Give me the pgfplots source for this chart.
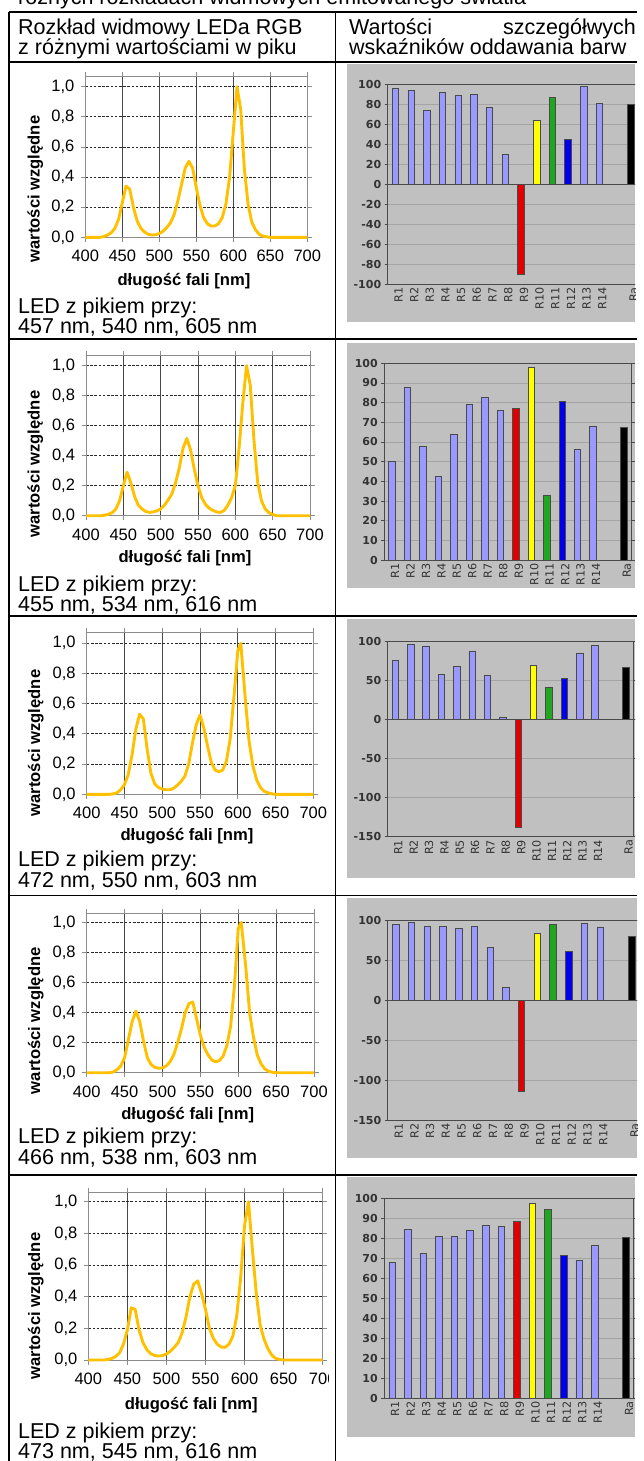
\documentclass[border=0pt]{standalone}
\usepackage{fontspec}
\setmainfont{Liberation Sans}
\newfontfamily\dejavu{DejaVu Sans}
\usepackage{pgfplots}
\pgfplotsset{compat=1.18}
\definecolor{cgold}{HTML}{FFC000}
\definecolor{cgrey}{HTML}{C0C0C0}
\definecolor{gridg}{HTML}{A4A4A4}
\definecolor{frameg}{HTML}{4A4A4A}
\definecolor{labg}{HTML}{333333}
\definecolor{lav}{HTML}{9999FF}
\definecolor{cred}{HTML}{E00000}
\definecolor{cyel}{HTML}{FFFF00}
\definecolor{cgreen}{HTML}{1FA81F}
\definecolor{cblue}{HTML}{0000EE}
\definecolor{boxg}{HTML}{8C8C8C}
\definecolor{vgrid}{HTML}{474747}
\definecolor{hgrid}{HTML}{2A2A2A}
\pgfplotsset{
 spec/.style={
  scale only axis, anchor=south west, clip=false,
  xmin=400, xmax=700, ymin=0,
  xtick={400,450,500,550,600,650,700},
  ytick={0,0.2,0.4,0.6,0.8,1},
  xmajorgrids, ymajorgrids,
  x grid style={color=vgrid, line width=0.9pt},
  y grid style={color=hgrid, line width=0.9pt, dash pattern=on 2.6pt off 1.6pt},
  axis line style={color=boxg, line width=0.9pt},
  tick align=outside, major tick length=4.5pt,
  tick style={color=boxg, line width=0.9pt},
  tick label style={font=\fontsize{16.5}{18}\selectfont},
  xticklabel style={/pgf/number format/assume math mode=true, yshift=-5pt},
  yticklabel style={/pgf/number format/.cd, fixed, fixed zerofill, precision=1, use comma, assume math mode=true, /tikz/xshift=-3pt},
 },
 curve/.style={color=cgold, line width=2.9pt, line join=round},
 bars/.style={
  scale only axis, anchor=south west,
  xmin=-0.5, xmax=15.5,
  xtick={0,1,2,3,4,5,6,7,8,9,10,11,12,13,15},
  xticklabels={R1,R2,R3,R4,R5,R6,R7,R8,R9,R10,R11,R12,R13,R14,Ra},
  ymajorgrids, grid style={color=gridg, line width=0.8pt},
  axis line style={color=frameg, line width=0.9pt},
  tick align=outside, major tick length=3pt,
  xtick style={draw=none},
  ytick style={color=frameg, line width=0.9pt},
  yticklabel style={font=\dejavu\bfseries\fontsize{11}{12}\selectfont, text=labg, /pgf/number format/assume math mode=true},
  xticklabel style={font=\dejavu\fontsize{11.2}{12}\selectfont, text=labg, rotate=90, anchor=east, inner sep=0pt, yshift=-3pt},
 },
 zeroline/.style={extra y ticks={0}, extra y tick labels={}, extra y tick style={grid style={color=frameg, line width=0.9pt}}},
 bar/.style={ybar, bar width=6.5pt, bar shift=0pt, draw=frameg, line width=0.7pt},
}
\tikzset{txt/.style={font=\fontsize{21.5}{24}\selectfont, inner sep=0pt},
 alab/.style={font=\bfseries\fontsize{16.6}{18}\selectfont, inner sep=0pt}}
\begin{document}
\begin{tikzpicture}[x=1pt,y=-1pt]
\useasboundingbox (0,0) rectangle (643,1461);
\clip (0,0) rectangle (643,1461);
% title fragment and header
\node[txt, anchor=base west] at (18,5) {różnych rozkładach widmowych emitowanego światła};
\node[txt, anchor=base west] at (18,35) {Rozkład widmowy LEDa RGB};
\node[txt, anchor=base west] at (18,55) {z różnymi wartościami w piku};
\node[txt, anchor=base west] at (349,35) {Wartości};
\node[txt, anchor=base east] at (636,35) {szczegółwych};
\node[txt, anchor=base west] at (349,55) {wskaźników oddawania barw};
% table rules
\draw[line width=1.4pt] (9,12) -- (637,12);
\draw[line width=1.4pt] (9,62) -- (637,62);
\draw[line width=1.4pt] (9,339) -- (637,339);
\draw[line width=1.4pt] (9,616) -- (637,616);
\draw[line width=1.4pt] (9,895.5) -- (637,895.5);
\draw[line width=1.4pt] (9,1175) -- (637,1175);
\draw[line width=1.4pt] (9,12) -- (9,1470);
\draw[line width=1.4pt] (335.5,12) -- (335.5,1470);

% ---------- Row 1 ----------
\begin{axis}[spec, at={(85.3pt,-237.3pt)}, width=222pt, height=161.1pt, ymax=1.07]
\addplot[curve] coordinates {(400,0)(405,0)(410,0)(415,0)(420,0)(425,0.005)(430,0.015)(435,0.03)(440,0.06)(445,0.12)(450,0.23)(455,0.34)(460,0.32)(465,0.2)(470,0.11)(475,0.06)(480,0.035)(485,0.02)(490,0.015)(495,0.017)(500,0.025)(505,0.04)(510,0.065)(515,0.095)(520,0.15)(525,0.24)(530,0.35)(535,0.46)(540,0.505)(545,0.46)(550,0.33)(555,0.21)(560,0.13)(565,0.09)(570,0.075)(575,0.075)(580,0.09)(585,0.13)(590,0.22)(595,0.4)(600,0.7)(605,1.0)(610,0.85)(615,0.45)(620,0.22)(625,0.1)(630,0.05)(635,0.02)(640,0.008)(645,0.003)(650,0)(660,0)(670,0)(680,0)(690,0)(700,0)};
\end{axis}
\node[alab, anchor=base] at (184,285) {długość fali [nm]};
\node[alab, rotate=90, anchor=base] at (39.5,189) {wartości względne};
\node[txt, anchor=base west] at (18,313) {LED z pikiem przy:};
\node[txt, anchor=base west] at (18,333) {457 nm, 540 nm, 605 nm};
\fill[cgrey] (347,64) rectangle (635,322);
\begin{scope}
\clip (347,64) rectangle (635,322);
\begin{axis}[bars, zeroline, at={(387.7pt,-284pt)}, width=250.8pt, height=199.7pt, ymin=-100, ymax=100, ytick={-100,-80,-60,-40,-20,0,20,40,60,80,100}]
\addplot[bar, fill=lav] coordinates {(0,96)(1,94)(2,74)(3,92)(4,88.5)(5,89.5)(6,76.5)(7,30)(12,97.5)(13,80.7)};
\addplot[bar, fill=cred] coordinates {(8,-90)};
\addplot[bar, fill=cyel] coordinates {(9,63.5)};
\addplot[bar, fill=cgreen] coordinates {(10,87)};
\addplot[bar, fill=cblue] coordinates {(11,45)};
\addplot[bar, fill=black] coordinates {(15,80)};
\end{axis}
\end{scope}

% ---------- Row 2 ----------
\begin{axis}[spec, at={(86pt,-515.7pt)}, width=224pt, height=160.5pt, ymax=1.07]
\addplot[curve] coordinates {(400,0)(405,0)(410,0)(415,0)(420,0)(425,0.003)(430,0.01)(435,0.02)(440,0.045)(445,0.1)(450,0.2)(455,0.29)(460,0.22)(465,0.13)(470,0.07)(475,0.045)(480,0.028)(485,0.022)(490,0.025)(495,0.032)(500,0.045)(505,0.07)(510,0.105)(515,0.145)(520,0.22)(525,0.32)(530,0.45)(535,0.515)(540,0.44)(545,0.31)(550,0.2)(555,0.12)(560,0.075)(565,0.05)(570,0.035)(575,0.025)(580,0.022)(585,0.035)(590,0.07)(595,0.12)(600,0.2)(605,0.45)(610,0.75)(615,1.0)(620,0.87)(625,0.5)(630,0.22)(635,0.1)(640,0.045)(645,0.02)(650,0.008)(655,0)(660,0)(670,0)(680,0)(690,0)(700,0)};
\end{axis}
\node[alab, anchor=base] at (185,562.7) {długość fali [nm]};
\node[alab, rotate=90, anchor=base] at (39.5,464) {wartości względne};
\node[txt, anchor=base west] at (18,591) {LED z pikiem przy:};
\node[txt, anchor=base west] at (18,611) {455 nm, 534 nm, 616 nm};
\fill[cgrey] (347,343) rectangle (635,588);
\begin{scope}
\clip (347,343) rectangle (635,588);
\begin{axis}[bars, at={(384.3pt,-560pt)}, width=247.4pt, height=196.7pt, ymin=0, ymax=100, ytick={0,10,20,30,40,50,60,70,80,90,100}]
\addplot[bar, fill=lav] coordinates {(0,50.3)(1,87.6)(2,57.6)(3,42.5)(4,63.7)(5,79.3)(6,82.7)(7,75.9)(12,56.3)(13,68.1)};
\addplot[bar, fill=cred] coordinates {(8,77.3)};
\addplot[bar, fill=cyel] coordinates {(9,98)};
\addplot[bar, fill=cgreen] coordinates {(10,32.9)};
\addplot[bar, fill=cblue] coordinates {(11,80.5)};
\addplot[bar, fill=black] coordinates {(15,67.3)};
\end{axis}
\end{scope}

% ---------- Row 3 ----------
\begin{axis}[spec, at={(86.7pt,-794.3pt)}, width=226.6pt, height=161.6pt, ymax=1.07]
\addplot[curve] coordinates {(400,0)(410,0)(420,0)(430,0)(435,0.003)(440,0.01)(445,0.03)(450,0.065)(455,0.13)(460,0.26)(465,0.43)(470,0.53)(475,0.5)(480,0.3)(485,0.14)(490,0.07)(495,0.045)(500,0.035)(505,0.03)(510,0.03)(515,0.04)(520,0.06)(525,0.085)(530,0.12)(535,0.2)(540,0.34)(545,0.46)(550,0.525)(555,0.44)(560,0.32)(565,0.21)(570,0.16)(575,0.15)(580,0.16)(585,0.22)(590,0.37)(595,0.65)(600,0.95)(604,1.0)(610,0.63)(615,0.35)(620,0.19)(625,0.095)(630,0.045)(635,0.02)(640,0.01)(645,0.003)(650,0)(660,0)(670,0)(680,0)(690,0)(700,0)};
\end{axis}
\node[alab, anchor=base] at (187,840.7) {długość fali [nm]};
\node[alab, rotate=90, anchor=base] at (40,743) {wartości względne};
\node[txt, anchor=base west] at (18,866.7) {LED z pikiem przy:};
\node[txt, anchor=base west] at (18,887) {472 nm, 550 nm, 603 nm};
\fill[cgrey] (347,619) rectangle (635,878);
\begin{scope}
\clip (347,619) rectangle (635,878);
\begin{axis}[bars, zeroline, at={(387.7pt,-836.7pt)}, width=245.7pt, height=195.7pt, ymin=-150, ymax=100, ytick={-150,-100,-50,0,50,100}]
\addplot[bar, fill=lav] coordinates {(0,75)(1,95.8)(2,93.7)(3,57.5)(4,67.7)(5,87.3)(6,56.2)(7,2.1)(12,84.8)(13,94.5)};
\addplot[bar, fill=cred] coordinates {(8,-138.4)};
\addplot[bar, fill=cyel] coordinates {(9,68.6)};
\addplot[bar, fill=cgreen] coordinates {(10,40.5)};
\addplot[bar, fill=cblue] coordinates {(11,52)};
\addplot[bar, fill=black] coordinates {(15,66.9)};
\end{axis}
\end{scope}

% ---------- Row 4 ----------
\begin{axis}[spec, at={(86.7pt,-1072.7pt)}, width=227.3pt, height=159.4pt, ymax=1.06]
\addplot[curve] coordinates {(400,0)(410,0)(420,0)(430,0)(435,0.005)(440,0.02)(445,0.045)(450,0.1)(455,0.22)(460,0.34)(465,0.41)(470,0.34)(475,0.21)(480,0.1)(485,0.055)(490,0.035)(495,0.03)(500,0.032)(505,0.045)(510,0.073)(515,0.12)(520,0.2)(525,0.29)(530,0.4)(535,0.46)(540,0.47)(545,0.36)(550,0.25)(555,0.17)(560,0.12)(565,0.085)(570,0.073)(575,0.08)(580,0.11)(585,0.18)(590,0.31)(595,0.58)(600,0.96)(604,1.0)(610,0.7)(615,0.4)(620,0.24)(625,0.12)(630,0.06)(635,0.025)(640,0.01)(645,0.003)(650,0)(660,0)(670,0)(680,0)(690,0)(700,0)};
\end{axis}
\node[alab, anchor=base] at (187.7,1119.3) {długość fali [nm]};
\node[alab, rotate=90, anchor=base] at (40,1020.7) {wartości względne};
\node[txt, anchor=base west] at (18,1143.3) {LED z pikiem przy:};
\node[txt, anchor=base west] at (18,1164.5) {466 nm, 538 nm, 603 nm};
\fill[cgrey] (347,898) rectangle (637,1158);
\begin{scope}
\clip (347,898) rectangle (637,1158);
\begin{axis}[bars, zeroline, at={(387.8pt,-1120pt)}, width=251.8pt, height=200pt, ymin=-150, ymax=100, ytick={-150,-100,-50,0,50,100}]
\addplot[bar, fill=lav] coordinates {(0,94.6)(1,97.5)(2,92)(3,92)(4,89.6)(5,92)(6,65.8)(7,15.8)(12,95.8)(13,91.3)};
\addplot[bar, fill=cred] coordinates {(8,-114.2)};
\addplot[bar, fill=cyel] coordinates {(9,82.9)};
\addplot[bar, fill=cgreen] coordinates {(10,94.6)};
\addplot[bar, fill=cblue] coordinates {(11,60.8)};
\addplot[bar, fill=black] coordinates {(15,80)};
\end{axis}
\end{scope}

% ---------- Row 5 ----------
\begin{scope}
\clip (9,1175) rectangle (328.5,1461);
\begin{axis}[spec, at={(88.3pt,-1360pt)}, width=234.4pt, height=167.3pt, ymax=1.057]
\addplot[curve] coordinates {(400,0)(405,0)(410,0)(415,0)(420,0)(425,0.003)(430,0.01)(435,0.022)(440,0.045)(445,0.1)(450,0.19)(455,0.33)(460,0.32)(465,0.19)(470,0.11)(475,0.065)(480,0.04)(485,0.028)(490,0.025)(495,0.028)(500,0.038)(505,0.055)(510,0.08)(515,0.11)(520,0.17)(525,0.27)(530,0.4)(535,0.48)(540,0.5)(545,0.42)(550,0.32)(555,0.2)(560,0.137)(565,0.1)(570,0.082)(575,0.08)(580,0.1)(585,0.15)(590,0.28)(595,0.52)(600,0.85)(605,1.0)(610,0.7)(615,0.42)(620,0.22)(625,0.13)(630,0.07)(635,0.03)(640,0.01)(645,0.003)(650,0)(660,0)(670,0)(680,0)(690,0)(700,0)};
\end{axis}
\end{scope}
\node[alab, anchor=base] at (191.3,1409.3) {długość fali [nm]};
\node[alab, rotate=90, anchor=base] at (40,1306) {wartości względne};
\node[txt, anchor=base west] at (18,1438.5) {LED z pikiem przy:};
\node[txt, anchor=base west] at (18,1458) {473 nm, 545 nm, 616 nm};
\fill[cgrey] (347,1177) rectangle (635,1437);
\begin{scope}
\clip (347,1177) rectangle (635,1437);
\begin{axis}[bars, at={(384.3pt,-1398pt)}, width=249.5pt, height=199.7pt, ymin=0, ymax=100, ytick={0,10,20,30,40,50,60,70,80,90,100}]
\addplot[bar, fill=lav] coordinates {(0,68.1)(1,84.5)(2,72.6)(3,80.8)(4,81.1)(5,84)(6,86.6)(7,86.1)(12,68.8)(13,76.5)};
\addplot[bar, fill=cred] coordinates {(8,88.3)};
\addplot[bar, fill=cyel] coordinates {(9,97.7)};
\addplot[bar, fill=cgreen] coordinates {(10,94.3)};
\addplot[bar, fill=cblue] coordinates {(11,71.3)};
\addplot[bar, fill=black] coordinates {(15,80.3)};
\end{axis}
\end{scope}
\end{tikzpicture}
\end{document}
